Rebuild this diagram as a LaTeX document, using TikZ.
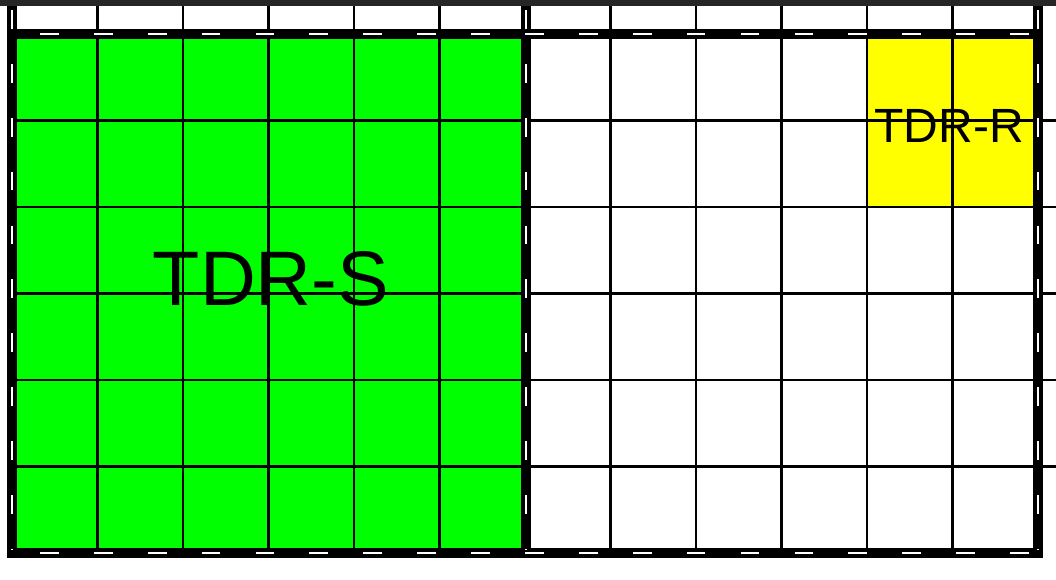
\documentclass[tikz,border=0pt]{standalone}
\usepackage{fontspec}
\setmainfont{Liberation Sans}
\usetikzlibrary{positioning}
\definecolor{zoneGreen}{HTML}{00FF00}
\definecolor{zoneYellow}{HTML}{FFFF00}
\definecolor{barGray}{HTML}{262626}

\begin{document}
\begin{tikzpicture}[x=0.03cm, y=-0.03cm,
  gridline/.style={black, line width=2pt},
  wall/.style={black, line width=8.5pt},
  wallmark/.style={white, line width=1.5pt, dash pattern=on 16pt off 30pt},
  zonelabel/.style={text=black, inner sep=0pt, anchor=base}
]
\useasboundingbox (0,0) rectangle (1056,579);
\fill[white] (0,0) rectangle (1056,579);
\fill[barGray] (0,0) rectangle (1056,6);
% zones
\fill[zoneGreen] (12,34) rectangle (526,553);
\fill[zoneYellow] (868,34) rectangle (1038,207);
% grid
\foreach \i in {1,...,11}
  \draw[gridline] ({12+85.5*\i},6) -- ({12+85.5*\i},553);
\foreach \j in {1,...,5}
  \draw[gridline] (12,{34+86.5*\j}) -- (1056,{34+86.5*\j});
% walls
\foreach \x in {12,526,1038}
  \draw[wall] (\x,6) -- (\x,558);
\foreach \y in {34,553}
  \draw[wall] (7,\y) -- (1043,\y);
\foreach \x in {12,526,1038}
  \draw[wallmark] (\x,10) -- (\x,550);
\foreach \y in {34,553}
  \draw[wallmark] (40,\y) -- (1030,\y);
% labels
\node[zonelabel, font=\fontsize{66}{66}\selectfont] (tdrS) at (271,305) {TDR-S};
\node[zonelabel, font=\fontsize{41}{41}\selectfont] (tdrR) at (949,142) {TDR-R};
\end{tikzpicture}
\end{document}
